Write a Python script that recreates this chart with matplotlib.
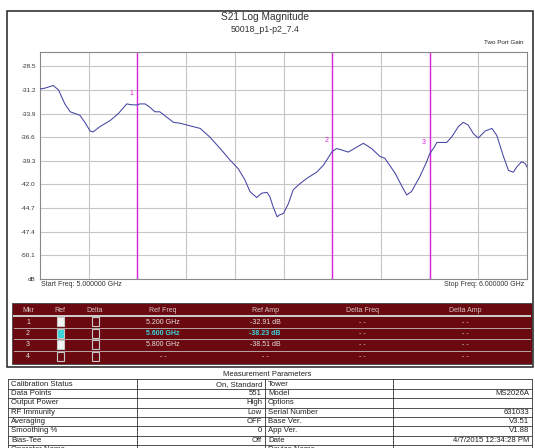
import matplotlib
matplotlib.use('Agg')
import matplotlib.pyplot as plt
from matplotlib.patches import Rectangle

plt.rcParams['font.family'] = ['Liberation Sans', 'DejaVu Sans']

W, H = 535, 448

# S21 trace
freq_ghz = [5.000, 5.010, 5.027, 5.038, 5.051, 5.062, 5.082, 5.092, 5.103, 5.109,
            5.123, 5.144, 5.161, 5.178, 5.188, 5.200, 5.205, 5.216, 5.226, 5.236,
            5.246, 5.260, 5.274, 5.287, 5.308, 5.329, 5.349, 5.370, 5.390, 5.407,
            5.421, 5.431, 5.445, 5.455, 5.466, 5.472, 5.479, 5.487, 5.491, 5.500,
            5.510, 5.520, 5.534, 5.548, 5.568, 5.582, 5.600, 5.609, 5.616, 5.633,
            5.664, 5.681, 5.698, 5.708, 5.729, 5.743, 5.753, 5.763, 5.780, 5.794,
            5.800, 5.810, 5.815, 5.835, 5.845, 5.859, 5.869, 5.879, 5.890, 5.900,
            5.914, 5.928, 5.938, 5.951, 5.962, 5.972, 5.979, 5.989, 5.996, 6.000]
s21_db = [-31.1, -31.0, -30.7, -31.2, -32.8, -33.7, -34.1, -34.9, -35.9, -36.0,
          -35.4, -34.7, -33.9, -32.8, -32.9, -32.91, -32.8, -32.8, -33.2, -33.7,
          -33.7, -34.3, -34.9, -35.0, -35.3, -35.6, -36.6, -37.9, -39.2, -40.2,
          -41.5, -42.8, -43.5, -43.0, -42.9, -43.4, -44.6, -45.7, -45.5, -45.3,
          -44.2, -42.6, -41.9, -41.3, -40.6, -39.8, -38.23, -37.9, -38.0, -38.3,
          -37.3, -37.9, -38.8, -39.0, -40.7, -42.2, -43.2, -42.8, -41.1, -39.4,
          -38.51, -37.7, -37.2, -37.2, -36.6, -35.4, -34.9, -35.2, -36.2, -36.7,
          -35.9, -35.6, -36.4, -38.7, -40.4, -40.6, -40.0, -39.4, -39.6, -40.0]

y_ticks = [-28.5, -31.2, -33.9, -36.6, -39.3, -42.0, -44.7, -47.4, -50.1, -52.8]
y_tick_labels = ['-28.5', '-31.2', '-33.9', '-36.6', '-39.3', '-42.0', '-44.7',
                 '-47.4', '-50.1', 'dB']
x_grid = [5.1, 5.2, 5.3, 5.4, 5.5, 5.6, 5.7, 5.8, 5.9]

marker_ids = ['1', '2', '3', '4']
marker_freq = [5.2, 5.6, 5.8]
marker_ref_freq = ['5.200 GHz', '5.600 GHz', '5.800 GHz', '- -']
marker_ref_amp = ['-32.91 dB', '-38.23 dB', '-38.51 dB', '- -']
marker_ref_on = [True, True, True, False]
active_marker = 1
table_header = ['Mkr', 'Ref', 'Delta', 'Ref Freq', 'Ref Amp', 'Delta Freq', 'Delta Amp']

param_names_left = ['Calibration Status', 'Data Points', 'Output Power', 'RF Immunity',
                    'Averaging', 'Smoothing %', 'Bias-Tee', 'Operator Name']
param_values_left = ['On, Standard', '551', 'High', 'Low', 'OFF', '0', 'Off', '']
param_names_right = ['Tower', 'Model', 'Options', 'Serial Number', 'Base Ver.',
                     'App Ver.', 'Date', 'Device Name']
param_values_right = ['', 'MS2026A', '', '631033', 'V3.51', 'V1.88',
                      '4/7/2015 12:34:28 PM', '']

TRACE = '#4444a4'
MAGENTA = '#dd22dd'
MAROON = '#6a0a10'
CYAN = '#3ad6dc'

fig = plt.figure(figsize=(W / 100, H / 100), dpi=100)

# overlay in pixel coordinates for frame and tables
ov = fig.add_axes([0, 0, 1, 1])
ov.set_xlim(0, W)
ov.set_ylim(H, 0)
ov.axis('off')

ov.add_patch(Rectangle((7, 11), 526, 356, fill=False, ec='#222222', lw=1.1))
ov.text(265, 17, 'S21 Log Magnitude', ha='center', va='center', fontsize=7.3, color='#333333')
ov.text(265, 30, '50018_p1-p2_7.4', ha='center', va='center', fontsize=6.3, color='#333333')
ov.text(524, 42, 'Two Port Gain', ha='right', va='center', fontsize=4.5, color='#222222')
ov.text(41, 285, 'Start Freq: 5.000000 GHz', ha='left', va='center', fontsize=5, color='#333333')
ov.text(524, 285, 'Stop Freq: 6.000000 GHz', ha='right', va='center', fontsize=5, color='#333333')

# marker table
ov.add_patch(Rectangle((12, 303), 520, 61, fc=MAROON, ec='#444444', lw=0.6))
col_x = [28, 60, 95, 163, 265, 362, 465]
row_y = [310, 322, 333.5, 345, 357]
for cx, lab in zip(col_x, table_header):
    ov.text(cx, row_y[0], lab, ha='center', va='center', fontsize=5, color='#d8c8c8')
ov.plot([14, 530], [316, 316], color='#d0d0d0', lw=1.4)
for sy in [328, 339.5, 351]:
    ov.plot([14, 530], [sy, sy], color='#b8a8a8', lw=0.7)
for i, mid in enumerate(marker_ids):
    y = row_y[i + 1]
    txt_color = CYAN if i == active_marker else '#e8e0e0'
    weight = 'bold' if i == active_marker else 'normal'
    ov.text(col_x[0], y, mid, ha='center', va='center', fontsize=5, color='#e8e0e0')
    if marker_ref_on[i]:
        fc = CYAN if i == active_marker else '#f4f4f4'
    else:
        fc = MAROON
    ov.add_patch(Rectangle((col_x[1] - 3.5, y - 4.5), 7, 9, fc=fc, ec='#c8c8c8', lw=0.8))
    ov.add_patch(Rectangle((col_x[2] - 3.5, y - 4.5), 7, 9, fc=MAROON, ec='#c8c8c8', lw=0.8))
    ov.text(col_x[3], y, marker_ref_freq[i], ha='center', va='center', fontsize=5,
            color=txt_color, weight=weight)
    ov.text(col_x[4], y, marker_ref_amp[i], ha='center', va='center', fontsize=5,
            color=txt_color, weight=weight)
    ov.text(col_x[5], y, '- -', ha='center', va='center', fontsize=5, color='#d8c8c8')
    ov.text(col_x[6], y, '- -', ha='center', va='center', fontsize=5, color='#d8c8c8')

# measurement parameters table
ov.text(267, 375, 'Measurement Parameters', ha='center', va='center', fontsize=5.5, color='#222222')
p_top = 379.5
p_h = 9.35
p_cols = [8, 137, 265, 393, 532]
n_rows = len(param_names_left)
p_bottom = p_top + p_h * n_rows
for xv in p_cols:
    ov.plot([xv, xv], [p_top, p_bottom], color='#333333', lw=0.6)
for r in range(n_rows + 1):
    yy = p_top + r * p_h
    ov.plot([p_cols[0], p_cols[-1]], [yy, yy], color='#333333', lw=0.6)
for r in range(n_rows):
    yc = p_top + (r + 0.5) * p_h
    ov.text(p_cols[0] + 3, yc, param_names_left[r], ha='left', va='center', fontsize=5.6, color='#222222')
    ov.text(p_cols[2] - 3, yc, param_values_left[r], ha='right', va='center', fontsize=5.6, color='#222222')
    ov.text(p_cols[2] + 3, yc, param_names_right[r], ha='left', va='center', fontsize=5.6, color='#222222')
    ov.text(p_cols[4] - 3, yc, param_values_right[r], ha='right', va='center', fontsize=5.6, color='#222222')

# main trace plot
ax = fig.add_axes([40 / W, 1 - 279 / H, 487 / W, 227 / H])
ax.set_facecolor('white')
ax.set_xlim(5.0, 6.0)
ax.set_ylim(-52.8, -26.87)
for yv in y_ticks[:-1]:
    ax.axhline(yv, color='#c6c6c6', lw=0.8, zorder=1)
for xv in x_grid:
    ax.axvline(xv, color='#c6c6c6', lw=0.8, zorder=1)
for k, mf in enumerate(marker_freq):
    ax.axvline(mf, color=MAGENTA, lw=1.0, zorder=2)
ax.plot(freq_ghz, s21_db, color=TRACE, lw=0.75, zorder=3)
for k, mf in enumerate(marker_freq):
    ax.annotate(marker_ids[k], (mf, s21_db[freq_ghz.index(mf)]), xytext=(-4, 8),
                textcoords='offset points', ha='center', va='center',
                fontsize=5, color=MAGENTA, zorder=4)
ax.set_xticks([])
ax.set_yticks(y_ticks)
ax.set_yticklabels(y_tick_labels, fontsize=4.6, color='#333333')
ax.tick_params(axis='y', length=0, pad=3)
for s in ax.spines.values():
    s.set_color('#888888')
    s.set_linewidth(0.8)

fig.savefig('out.png', dpi=100)
